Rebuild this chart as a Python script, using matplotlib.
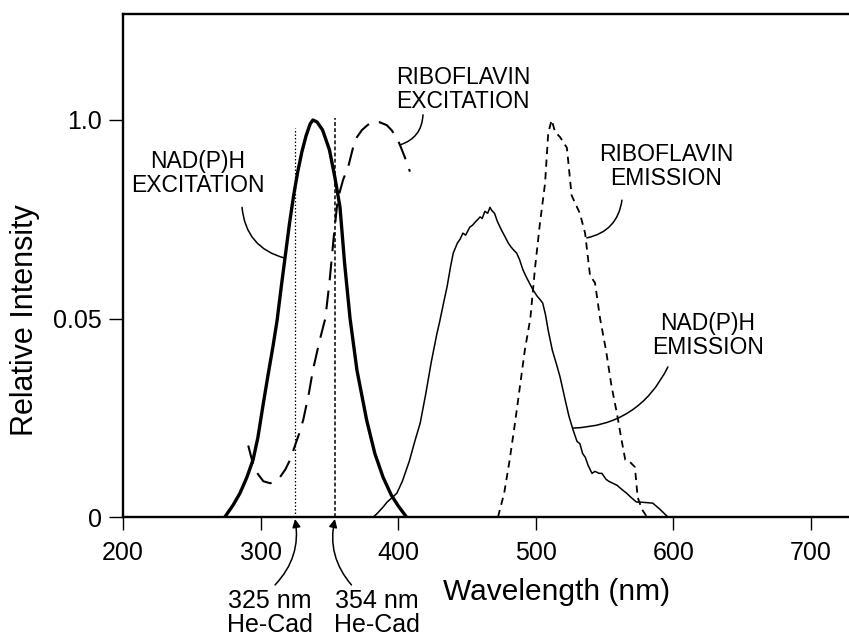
import matplotlib
matplotlib.use("Agg")
import matplotlib.pyplot as plt

plt.rcParams['font.family'] = ['Liberation Sans', 'DejaVu Sans']

# NAD(P)H excitation spectrum
nadh_ex_wl = [274, 280, 285, 290, 294.5, 298, 302, 306, 309, 312, 315, 318, 321, 324,
              327, 330, 333, 336, 338, 341, 345, 350, 354, 357.7, 361, 365, 370, 377,
              383, 389, 395, 400, 406]
nadh_ex_val = [0.0, 0.03, 0.06, 0.10, 0.144, 0.20, 0.287, 0.37, 0.43, 0.496, 0.58, 0.66,
               0.74, 0.81, 0.87, 0.92, 0.96, 0.99, 1.0, 0.995, 0.975, 0.925, 0.855, 0.78,
               0.64, 0.50, 0.37, 0.245, 0.16, 0.10, 0.055, 0.028, 0.0]

# Riboflavin excitation spectrum
ribo_ex_wl = [291, 294, 297, 302, 307, 311, 314, 318, 321.4, 324, 328, 331, 335, 338,
              343, 347, 350, 353, 356, 360, 363.5, 368.6, 373.7, 378, 381.7, 386,
              391.7, 395, 398.8, 401.5, 404.7, 408.5]
ribo_ex_val = [0.18, 0.14, 0.113, 0.09, 0.085, 0.092, 0.10, 0.12, 0.144, 0.17, 0.21,
               0.245, 0.31, 0.37, 0.446, 0.50, 0.59, 0.70, 0.80, 0.85, 0.88, 0.95,
               0.975, 0.988, 0.995, 0.995, 0.987, 0.975, 0.957, 0.935, 0.907, 0.87]

# Riboflavin emission spectrum
ribo_em_wl = [472.5, 477, 481, 485, 488.5, 492, 496, 499.5, 503, 506.7, 509, 511.5, 514,
              517.6, 522.6, 526, 532, 535.8, 539.5, 541, 543, 546.7, 551, 555, 559, 562,
              565, 568, 572, 574, 577, 580.8]
ribo_em_val = [0.0, 0.06, 0.144, 0.24, 0.33, 0.42, 0.50, 0.63, 0.74, 0.84, 0.967, 1.0,
               0.97, 0.957, 0.93, 0.81, 0.765, 0.715, 0.605, 0.60, 0.59, 0.50, 0.42, 0.33,
               0.26, 0.20, 0.144, 0.14, 0.126, 0.05, 0.02, 0.0]

# NAD(P)H emission spectrum
nadh_em_wl = [382, 385, 389, 392, 396, 399, 403, 408, 412, 416, 420, 424, 428, 430, 433,
              435.5, 438, 440, 443, 445, 447, 449, 452, 454, 456, 458, 459.5, 461, 463,
              465, 466.7, 468, 470, 472, 475, 477, 480, 482, 484, 486, 488, 490.7, 493,
              496, 498, 501, 503, 505, 507, 509, 512, 515, 517.6, 521, 524, 527, 530,
              532, 534, 536, 538, 540.8, 543, 546, 548, 551, 553, 556, 559, 563, 566,
              569, 573, 578, 585, 590, 596]
nadh_em_val = [0.0, 0.01, 0.025, 0.038, 0.05, 0.06, 0.09, 0.14, 0.19, 0.237, 0.31, 0.39,
               0.46, 0.49, 0.54, 0.58, 0.63, 0.665, 0.69, 0.70, 0.715, 0.71, 0.73, 0.735,
               0.743, 0.75, 0.756, 0.752, 0.77, 0.765, 0.78, 0.772, 0.765, 0.745, 0.723,
               0.71, 0.69, 0.68, 0.672, 0.665, 0.65, 0.622, 0.605, 0.585, 0.572, 0.556,
               0.548, 0.539, 0.51, 0.47, 0.42, 0.385, 0.353, 0.30, 0.255, 0.22, 0.19,
               0.185, 0.16, 0.15, 0.13, 0.11, 0.115, 0.11, 0.11, 0.095, 0.09, 0.085,
               0.08, 0.068, 0.06, 0.05, 0.038, 0.037, 0.035, 0.02, 0.0]

# He-Cd laser lines
laser_wl = [325, 354]
laser_top = [0.98, 1.005]

x_ticks = [200, 300, 400, 500, 600, 700]
y_ticks = [0, 0.5, 1.0]
y_tick_labels = ["0", "0.05", "1.0"]

fig = plt.figure(figsize=(8.49, 6.39), dpi=100)
ax = fig.add_axes([0.1449, 0.1909, 1 - 0.1449, 0.7872])
ax.set_xlim(200, 727.6)
ax.set_ylim(0, 1.267)

ax.plot(nadh_ex_wl, nadh_ex_val, color="black", lw=2.4, solid_capstyle="round")
ax.plot(ribo_ex_wl, ribo_ex_val, color="black", lw=1.5, dashes=(9, 5))
ax.plot(ribo_em_wl, ribo_em_val, color="black", lw=1.3, dashes=(4, 3))
ax.plot(nadh_em_wl, nadh_em_val, color="black", lw=1.1)

ax.plot([laser_wl[0]] * 2, [0, laser_top[0]], color="black", lw=0.9, dashes=(1.2, 1.6))
ax.plot([laser_wl[1]] * 2, [0, laser_top[1]], color="black", lw=1.1, dashes=(2.5, 1.5))

for s in ["left", "top", "bottom"]:
    ax.spines[s].set_linewidth(1.7)
ax.spines["right"].set_visible(False)

ax.set_xticks(x_ticks)
ax.set_yticks(y_ticks)
ax.set_yticklabels(y_tick_labels)
ax.tick_params(axis="x", direction="out", length=9, width=1.0, pad=8, labelsize=18)
ax.tick_params(axis="y", direction="out", length=10, width=1.0, pad=5, labelsize=18)

ax.set_ylabel("Relative Intensity", fontsize=22, va="center")
ax.yaxis.set_label_coords(-0.135, 0.392)
ax.text(515, -0.189, "Wavelength (nm)", fontsize=21.5, ha="center", va="center")

lbl = dict(fontsize=16.5, ha="center", va="center", linespacing=1.05)
ax.text(254.5, 0.866, "NAD(P)H\nEXCITATION", **lbl)
ax.text(447, 1.076, "RIBOFLAVIN\nEXCITATION", **lbl)
ax.text(594.6, 0.884, "RIBOFLAVIN\nEMISSION", **lbl)
ax.text(625, 0.458, "NAD(P)H\nEMISSION", **lbl)

leader = dict(arrowstyle="-", color="black", lw=1.1, shrinkA=0, shrinkB=0)
ax.annotate("", xy=(317.7, 0.652), xytext=(286.5, 0.78),
            arrowprops=dict(connectionstyle="arc3,rad=0.35", **leader))
ax.annotate("", xy=(401, 0.937), xytext=(418, 1.013),
            arrowprops=dict(connectionstyle="arc3,rad=-0.35", **leader))
ax.annotate("", xy=(537, 0.703), xytext=(562.6, 0.798),
            arrowprops=dict(connectionstyle="arc3,rad=-0.35", **leader))
ax.annotate("", xy=(527, 0.224), xytext=(596, 0.378),
            arrowprops=dict(connectionstyle="arc3,rad=-0.3", **leader))

ax.text(306.8, -0.241, "325 nm\nHe-Cad", fontsize=18, ha="center", va="center",
        linespacing=1.0)
ax.text(384.6, -0.241, "354 nm\nHe-Cad", fontsize=18, ha="center", va="center",
        linespacing=1.0)
arrow = dict(arrowstyle="-|>", color="black", lw=1.1, mutation_scale=12,
             shrinkA=0, shrinkB=0)
ax.annotate("", xy=(laser_wl[0], -0.005), xytext=(310.5, -0.171),
            arrowprops=dict(connectionstyle="arc3,rad=0.25", **arrow),
            annotation_clip=False)
ax.annotate("", xy=(laser_wl[1], -0.005), xytext=(366, -0.171),
            arrowprops=dict(connectionstyle="arc3,rad=-0.25", **arrow),
            annotation_clip=False)

fig.savefig("out.png", dpi=100)
